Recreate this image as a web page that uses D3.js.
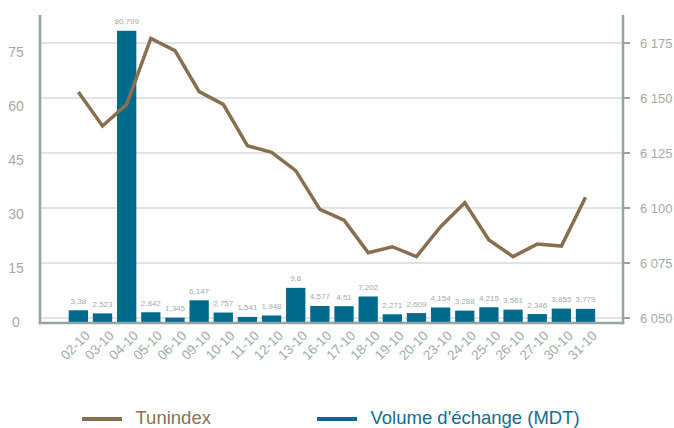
<!DOCTYPE html>
<html>
<head>
<meta charset="utf-8">
<script src="https://cdn.jsdelivr.net/npm/d3@7"></script>
<style>
  html, body { margin: 0; padding: 0; background: #fff; }
  svg { display: block; font-family: "Liberation Sans", Arial, sans-serif; }
</style>
</head>
<body>
<svg id="chart" width="674" height="428"></svg>
<script>
const categories = ["02-10","03-10","04-10","05-10","06-10","09-10","10-10","11-10","12-10","13-10","16-10","17-10","18-10","19-10","20-10","23-10","24-10","25-10","26-10","27-10","30-10","31-10"];
const volume = [3.38, 2.523, 80.799, 2.842, 1.345, 6.147, 2.757, 1.541, 1.948, 9.6, 4.577, 4.51, 7.202, 2.271, 2.609, 4.154, 3.288, 4.215, 3.561, 2.346, 3.855, 3.779];
const tunindex = [6152.7, 6137.3, 6147.1, 6177.1, 6171.5, 6152.9, 6147.1, 6128.3, 6125.3, 6117.0, 6099.4, 6094.5, 6079.7, 6082.4, 6077.9, 6091.5, 6102.4, 6085.5, 6077.9, 6083.6, 6082.7, 6104.9];
const leftTicks = [0, 15, 30, 45, 60, 75];
const rightTicks = [6050, 6075, 6100, 6125, 6150, 6175];
const seriesNames = ["Tunindex", "Volume d'échange (MDT)"];

const svg = d3.select("#chart");
const axisColor = "#95a49e";
const labelColor = "#a2aba8";
const barColor = "#006a8c";
const lineColor = "#87704f";

const x = d3.scaleBand().domain(categories).range([66.3, 597.6]).paddingInner(0.2).paddingOuter(0.1);
const yBar = d3.scaleLinear().domain([0, 85]).range([322.5, 15.65]);
const yRight = d3.scaleLinear().domain([6050, 6175]).range([318, 43]);
const plotLeft = 40, plotRight = 623, plotTop = 15, plotBottom = 323;

const fmt = v => String(v).replace(".", ",");
const fmtRight = v => d3.format(",")(v).replace(",", " ");

// gridlines
svg.append("g").selectAll("line").data(rightTicks).join("line")
  .attr("x1", plotLeft).attr("x2", plotRight)
  .attr("y1", d => yRight(d)).attr("y2", d => yRight(d))
  .attr("stroke", "#d8dbda").attr("stroke-width", 1.5);

// bars
svg.append("g").selectAll("rect").data(volume).join("rect")
  .attr("x", (d, i) => x(categories[i]))
  .attr("width", x.bandwidth())
  .attr("y", d => yBar(d))
  .attr("height", d => yBar(0) - yBar(d))
  .attr("fill", barColor);

// bar labels
svg.append("g").selectAll("text").data(volume).join("text")
  .attr("x", (d, i) => x(categories[i]) + x.bandwidth() / 2)
  .attr("y", d => yBar(d) - 6.5)
  .attr("text-anchor", "middle")
  .attr("font-size", 8)
  .attr("fill", "#a3aba9")
  .text(d => fmt(d));

// axes lines
svg.append("line").attr("x1", plotLeft).attr("x2", plotLeft).attr("y1", plotTop).attr("y2", plotBottom + 1.2)
  .attr("stroke", axisColor).attr("stroke-width", 2.5);
svg.append("line").attr("x1", plotRight).attr("x2", plotRight).attr("y1", plotTop).attr("y2", plotBottom + 1.2)
  .attr("stroke", axisColor).attr("stroke-width", 2.5);
svg.append("line").attr("x1", plotLeft - 1.2).attr("x2", plotRight + 1.2).attr("y1", plotBottom).attr("y2", plotBottom)
  .attr("stroke", axisColor).attr("stroke-width", 2.5);

// right ticks and labels
const rg = svg.append("g");
rg.selectAll("line").data(rightTicks).join("line")
  .attr("x1", plotRight).attr("x2", plotRight + 7)
  .attr("y1", d => yRight(d)).attr("y2", d => yRight(d))
  .attr("stroke", axisColor).attr("stroke-width", 2);
rg.selectAll("text").data(rightTicks).join("text")
  .attr("x", 640).attr("y", d => yRight(d)).attr("dy", "0.35em")
  .attr("font-size", 13).attr("fill", labelColor)
  .text(d => fmtRight(d));

// left labels
svg.append("g").selectAll("text").data(leftTicks).join("text")
  .attr("x", 16).attr("y", d => yBar(d)).attr("dy", "0.35em")
  .attr("text-anchor", "middle")
  .attr("font-size", 14).attr("fill", labelColor)
  .text(d => d);

// x labels
svg.append("g").selectAll("text").data(categories).join("text")
  .attr("transform", d => `translate(${x(d) + x.bandwidth() / 2 + 9},${333}) rotate(-45)`)
  .attr("text-anchor", "end")
  .attr("dy", "0.35em")
  .attr("font-size", 13.5).attr("fill", labelColor)
  .text(d => d);

// line
const line = d3.line().x((d, i) => x(categories[i]) + x.bandwidth() / 2).y(d => yRight(d));
svg.append("path").datum(tunindex).attr("d", line)
  .attr("fill", "none").attr("stroke", lineColor).attr("stroke-width", 3.5)
  .attr("stroke-linejoin", "miter");

// legend
const legend = [
  { name: seriesNames[0], color: lineColor, textColor: "#8a7252", x: 82 },
  { name: seriesNames[1], color: barColor, textColor: "#136e8e", x: 317 }
];
const lg = svg.append("g");
legend.forEach(l => {
  lg.append("line").attr("x1", l.x).attr("x2", l.x + 40).attr("y1", 419).attr("y2", 419)
    .attr("stroke", l.color).attr("stroke-width", 4);
  lg.append("text").attr("x", l.x + 53.5).attr("y", 423.5)
    .attr("font-size", 18.5).attr("fill", l.textColor).text(l.name);
});
</script>
</body>
</html>
